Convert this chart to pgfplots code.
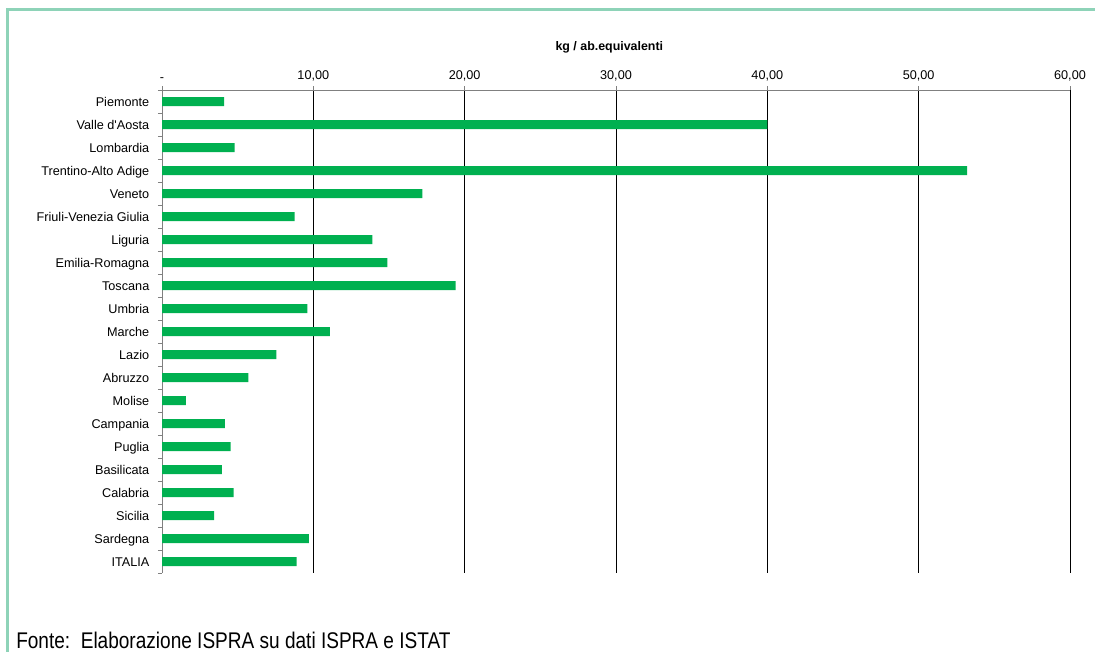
\documentclass[border=0pt]{standalone}
\usepackage{pgfplots}
\pgfplotsset{compat=1.18}
\usepackage{fontspec}
\setmainfont{Liberation Sans}
\usepackage{graphicx}
\definecolor{barg}{HTML}{00B050}
\definecolor{framec}{HTML}{8ED3B8}
\definecolor{axgray}{HTML}{808080}
\begin{document}
\begin{tikzpicture}
\useasboundingbox (0,0) rectangle (821.25pt,-489pt);
\draw[framec, line width=2.25pt] (5.6pt,-489pt) -- (5.6pt,-7.3pt) -- (821.25pt,-7.3pt);
\begin{axis}[
  at={(121.5pt,-67.5pt)}, anchor=north west,
  scale only axis, width=681pt, height=362.25pt,
  xbar, bar width=6.75pt,
  xmin=0, xmax=60, ymin=-0.5, ymax=20.5, y dir=reverse,
  axis x line*=top, axis y line*=left,
  axis line style={axgray, line width=0.75pt},
  xtick={0,10,20,30,40,50,60},
  xticklabels={-,{10,00},{20,00},{30,00},{40,00},{50,00},{60,00}},
  xmajorgrids, major grid style={black, line width=0.75pt},
  ytick={0,...,20},
  yticklabels={Piemonte,Valle d\textquotesingle Aosta,Lombardia,Trentino-Alto Adige,Veneto,Friuli-Venezia Giulia,Liguria,Emilia-Romagna,Toscana,Umbria,Marche,Lazio,Abruzzo,Molise,Campania,Puglia,Basilicata,Calabria,Sicilia,Sardegna,ITALIA},
  minor ytick={-0.5,0.5,...,20.5},
  tick align=outside, major tick length=3pt, minor tick length=3pt,
  major y tick style={draw opacity=0},
  tick style={axgray, line width=0.75pt},
  ticklabel style={font=\fontsize{9.5}{11}\selectfont, text=black},
  yticklabel style={anchor=base east, xshift=-3pt, yshift=-3.4pt},
  /pgf/number format/assume math mode=true,
]
\addplot[fill=barg, draw=none] coordinates {
  (4.1,0) (40.0,1) (4.8,2) (53.2,3) (17.2,4) (8.77,5) (13.9,6) (14.9,7)
  (19.4,8) (9.6,9) (11.1,10) (7.55,11) (5.7,12) (1.57,13) (4.16,14)
  (4.54,15) (3.95,16) (4.74,17) (3.44,18) (9.7,19) (8.9,20)
};
\end{axis}
\node[font=\bfseries\fontsize{9.3}{11}\selectfont] at (457pt,-35.25pt) {kg / ab.equivalenti};
\node[anchor=base west, inner sep=0pt, font=\fontsize{17}{20}\selectfont] at (12pt,-486pt) {\scalebox{0.84}[1]{Fonte:\ \ Elaborazione ISPRA su dati ISPRA e ISTAT}};
\end{tikzpicture}
\end{document}
